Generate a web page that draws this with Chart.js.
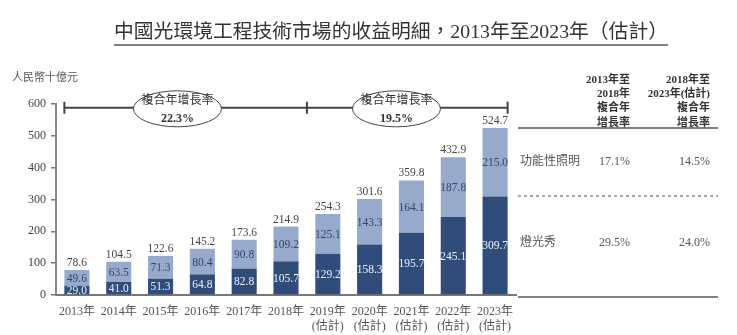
<!DOCTYPE html>
<html>
<head>
<meta charset="utf-8">
<script src="https://cdn.jsdelivr.net/npm/chart.js@4/dist/chart.umd.min.js"></script>
<style>
  html, body { margin: 0; padding: 0; background: #fff; }
  #wrap { width: 737px; height: 335px; }
</style>
</head>
<body>
<div id="wrap"><canvas id="chart" width="737" height="335"></canvas></div>
<script>
// revenue breakdown, stacked bars + a little cagr table on the right

// the data
const years = [
  "2013年", "2014年", "2015年", "2016年", "2017年", "2018年",
  ["2019年", "(估計)"], ["2020年", "(估計)"], ["2021年", "(估計)"],
  ["2022年", "(估計)"], ["2023年", "(估計)"]
];
const light_show = [29.0, 41.0, 51.3, 64.8, 82.8, 105.7, 129.2, 158.3, 195.7, 245.1, 309.7];
const functional = [49.6, 63.5, 71.3, 80.4, 90.8, 109.2, 125.1, 143.3, 164.1, 187.8, 215.0];
const totals = [78.6, 104.5, 122.6, 145.2, 173.6, 214.9, 254.3, 301.6, 359.8, 432.9, 524.7];
const y_ticks = [0, 100, 200, 300, 400, 500, 600];

// texts around the chart
const title = "中國光環境工程技術市場的收益明細，2013年至2023年（估計）";
const unit = "人民幣十億元";
const cagr_left = "22.3%";
const cagr_right = "19.5%";
const head_a = ["2013年至", "2018年", "複合年", "增長率"];
const head_b = ["2018年至", "2023年(估計)", "複合年", "增長率"];
const row_names = ["功能性照明", "燈光秀"];
const row_a = ["17.1%", "29.5%"];
const row_b = ["14.5%", "24.0%"];

const dark = "#2f4c7a";
const light = "#97aacb";
const serif = "'Liberation Serif', 'Noto Serif CJK TC', 'Noto Sans CJK TC', serif";
const cjk = "'Liberation Serif', 'Noto Sans CJK TC', sans-serif";

Chart.defaults.font.family = serif;
Chart.defaults.color = "#555";

// number labels on/above the bars
const bar_labels = {
  id: "bar_labels",
  afterDatasetsDraw(chart) {
    const ctx = chart.ctx;
    ctx.save();
    ctx.textAlign = "center";
    ctx.textBaseline = "middle";
    ctx.font = "11.5px " + serif;
    const m0 = chart.getDatasetMeta(0);
    const m1 = chart.getDatasetMeta(1);
    m0.data.forEach((bar, i) => {
      ctx.fillStyle = "#eef2f8";
      ctx.fillText(light_show[i].toFixed(1), bar.x, (bar.y + bar.base) / 2 + 1);
    });
    m1.data.forEach((bar, i) => {
      ctx.fillStyle = "#33476e";
      ctx.fillText(functional[i].toFixed(1), bar.x, (bar.y + bar.base) / 2 + 1);
      ctx.fillStyle = "#444";
      ctx.fillText(totals[i].toFixed(1), bar.x, bar.y - 7);
    });
    ctx.restore();
  }
};

// title, unit, cagr bracket and the table
const extras = {
  id: "extras",
  afterDraw(chart) {
    const ctx = chart.ctx;
    const xs = chart.scales.x;
    const ys = chart.scales.y;
    ctx.save();

    // title + underline
    ctx.fillStyle = "#333";
    ctx.textAlign = "center";
    ctx.textBaseline = "middle";
    ctx.font = "19.8px " + cjk;
    ctx.fillText(title, 391, 33);
    const tw = ctx.measureText(title).width;
    ctx.strokeStyle = "#555";
    ctx.lineWidth = 1.5;
    ctx.beginPath();
    ctx.moveTo(391 - tw / 2, 45);
    ctx.lineTo(391 + tw / 2, 45);
    ctx.stroke();

    // unit
    ctx.fillStyle = "#555";
    ctx.textAlign = "left";
    ctx.font = "11px " + cjk;
    ctx.fillText(unit, 12, 78);

    // bracket over the bars
    const half = chart.getDatasetMeta(0).data[0].width / 2;
    const x_first = xs.getPixelForValue(0) - half;
    const x_last = xs.getPixelForValue(years.length - 1) + half;
    const x_mid = (xs.getPixelForValue(5) + xs.getPixelForValue(6)) / 2;
    const yb = ys.getPixelForValue(588);
    ctx.strokeStyle = "#444";
    ctx.lineWidth = 2;
    ctx.beginPath();
    ctx.moveTo(x_first, yb);
    ctx.lineTo(x_last, yb);
    for (const xx of [x_first, x_mid, x_last]) {
      ctx.moveTo(xx, yb - 6);
      ctx.lineTo(xx, yb + 6);
    }
    ctx.stroke();

    const ovals = [
      [(xs.getPixelForValue(2) + xs.getPixelForValue(3)) / 2 - 4, cagr_left],
      [xs.getPixelForValue(8) - 15, cagr_right]
    ];
    for (const [cx, pct] of ovals) {
      ctx.beginPath();
      ctx.ellipse(cx, yb + 1, 44, 18, 0, 0, Math.PI * 2);
      ctx.fillStyle = "#fff";
      ctx.fill();
      ctx.lineWidth = 1;
      ctx.strokeStyle = "#444";
      ctx.stroke();
      ctx.fillStyle = "#333";
      ctx.textAlign = "center";
      ctx.font = "12px " + cjk;
      ctx.fillText("複合年增長率", cx, yb - 7);
      ctx.font = "bold 12px " + serif;
      ctx.fillText(pct, cx, yb + 11);
    }

    // table on the right
    ctx.fillStyle = "#333";
    ctx.textAlign = "right";
    ctx.font = "bold 11px " + cjk;
    const head_y = [80, 94, 108, 123];
    head_a.forEach((t, i) => ctx.fillText(t, 630, head_y[i]));
    head_b.forEach((t, i) => ctx.fillText(t, 710, head_y[i]));

    ctx.strokeStyle = "#555";
    ctx.lineWidth = 1.5;
    ctx.beginPath();
    ctx.moveTo(518, 128);
    ctx.lineTo(718, 128);
    ctx.moveTo(518, 297);
    ctx.lineTo(718, 297);
    ctx.stroke();
    ctx.lineWidth = 1;
    ctx.setLineDash([3, 3]);
    ctx.beginPath();
    ctx.moveTo(518, 196);
    ctx.lineTo(718, 196);
    ctx.stroke();
    ctx.setLineDash([]);

    const row_y = [162, 243];
    ctx.fillStyle = "#555";
    row_names.forEach((name, i) => {
      ctx.textAlign = "left";
      ctx.font = "12px " + cjk;
      ctx.fillText(name, 520, row_y[i]);
      ctx.textAlign = "right";
      ctx.font = "12px " + serif;
      ctx.fillText(row_a[i], 630, row_y[i]);
      ctx.fillText(row_b[i], 710, row_y[i]);
    });

    ctx.restore();
  }
};

const config = {
  type: "bar",
  data: {
    labels: years,
    datasets: [
      { label: "燈光秀", data: light_show, backgroundColor: dark },
      { label: "功能性照明", data: functional, backgroundColor: light }
    ]
  },
  options: {
    responsive: false,
    animation: false,
    layout: { padding: { left: 0, top: 104, right: 221, bottom: 0 } },
    plugins: {
      legend: { display: false },
      tooltip: { enabled: false },
      title: { display: false }
    },
    datasets: {
      bar: { categoryPercentage: 1, barPercentage: 0.6 }
    },
    scales: {
      x: {
        stacked: true,
        grid: { display: false },
        border: { display: true, color: "#777", width: 2 },
        ticks: {
          color: "#555",
          font: { family: cjk, size: 12, lineHeight: 1.25 },
          padding: 1,
          maxRotation: 0,
          autoSkip: false
        },
        afterFit(scale) { scale.height = 40; }
      },
      y: {
        stacked: true,
        min: 0,
        max: 600,
        grid: { drawOnChartArea: false, drawTicks: true, tickLength: 5, color: "#777", lineWidth: 1.5 },
        border: { display: true, color: "#888", width: 2 },
        afterBuildTicks(scale) { scale.ticks = y_ticks.map(v => ({ value: v })); },
        ticks: { color: "#444", font: { family: serif, size: 12 }, padding: 5 },
        afterFit(scale) { scale.width = 56; }
      }
    }
  },
  plugins: [bar_labels, extras]
};

new Chart(document.getElementById("chart").getContext("2d"), config);
</script>
</body>
</html>
